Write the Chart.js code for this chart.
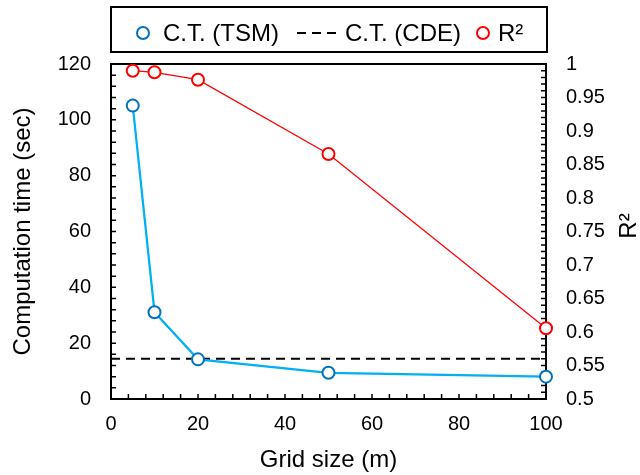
<!DOCTYPE html>
<html>
<head>
<meta charset="utf-8">
<script src="https://cdn.jsdelivr.net/npm/chart.js@4"></script>
<style>
  html, body { margin: 0; padding: 0; background: #fff; }
  #wrap { width: 640px; height: 475px; }
</style>
</head>
<body>
<div id="wrap"><canvas id="chart" width="640" height="475"></canvas></div>
<script>
const gridSizes = [5, 10, 20, 50, 100];
const timeTSM   = [105.1, 31.1, 14.2, 9.4, 8.0];
const cdeRange  = [0, 100];
const timeCDE   = [14.4, 14.4];
const rSquared  = [0.990, 0.9876, 0.9766, 0.8657, 0.6055];

const xTicks    = [0, 20, 40, 60, 80, 100];
const timeTicks = [0, 20, 40, 60, 80, 100, 120];
const r2Ticks   = [0.5, 0.55, 0.6, 0.65, 0.7, 0.75, 0.8, 0.85, 0.9, 0.95, 1];

const FONT = "'Liberation Sans', Arial, sans-serif";
const BLUE_LINE = '#00B0F0';
const BLUE_MARK = '#0070C0';
const RED = '#FF0000';

const toPoints = (xs, ys) => xs.map((x, i) => ({ x, y: ys[i] }));
const setTicks = arr => scale => { scale.ticks = arr.map(v => ({ value: v })); };

// inward major/minor ticks and the box around the plot
const framePlugin = {
    id: 'frame',
    beforeDatasetsDraw(chart) {
        const { ctx, chartArea: a, scales } = chart;
        ctx.save();
        ctx.strokeStyle = '#000';
        ctx.lineWidth = 1.5;
        ctx.beginPath();
        for (let i = 0; i <= 25; i++) {
            const px = scales.x.getPixelForValue(i * 4);
            ctx.moveTo(px, a.bottom);
            ctx.lineTo(px, a.bottom - 5);
        }
        for (let i = 0; i <= 30; i++) {
            const py = scales.y.getPixelForValue(i * 4);
            ctx.moveTo(a.left, py);
            ctx.lineTo(a.left + 5, py);
        }
        for (let i = 0; i <= 50; i++) {
            const py = scales.y2.getPixelForValue(0.5 + i * 0.01);
            ctx.moveTo(a.right, py);
            ctx.lineTo(a.right - 5, py);
        }
        ctx.stroke();
        ctx.lineWidth = 2;
        ctx.strokeRect(a.left, a.top, a.right - a.left, a.bottom - a.top);
        ctx.restore();
    },
    afterDraw(chart) {
        const { ctx } = chart;
        ctx.save();
        // right axis title, reading bottom to top
        ctx.font = `24px ${FONT}`;
        ctx.fillStyle = '#000';
        ctx.textAlign = 'center';
        ctx.textBaseline = 'middle';
        ctx.translate(629, 226);
        ctx.rotate(-Math.PI / 2);
        ctx.fillText('R\u00B2', 0, 0);
        ctx.restore();

        // legend box
        ctx.save();
        ctx.strokeStyle = '#000';
        ctx.lineWidth = 2;
        ctx.strokeRect(111, 7, 436, 45);
        ctx.font = `24px ${FONT}`;
        ctx.fillStyle = '#000';
        ctx.textAlign = 'left';
        ctx.textBaseline = 'middle';
        const cy = 33;

        ctx.lineWidth = 2;
        ctx.strokeStyle = BLUE_MARK;
        ctx.fillStyle = '#fff';
        ctx.beginPath(); ctx.arc(143, cy, 6, 0, Math.PI * 2); ctx.fill(); ctx.stroke();
        ctx.fillStyle = '#000';
        ctx.fillText('C.T. (TSM)', 163, cy + 1);

        ctx.strokeStyle = '#000';
        ctx.setLineDash([9, 6]);
        ctx.beginPath(); ctx.moveTo(297, cy); ctx.lineTo(339, cy); ctx.stroke();
        ctx.setLineDash([]);
        ctx.fillText('C.T. (CDE)', 345, cy + 1);

        ctx.strokeStyle = RED;
        ctx.fillStyle = '#fff';
        ctx.beginPath(); ctx.arc(483, cy, 6, 0, Math.PI * 2); ctx.fill(); ctx.stroke();
        ctx.fillStyle = '#000';
        ctx.fillText('R\u00B2', 498, cy + 1);
        ctx.restore();
    },
};

new Chart(document.getElementById('chart'), {
    type: 'line',
    data: {
        datasets: [
            {
                label: 'C.T. (TSM)',
                data: toPoints(gridSizes, timeTSM),
                yAxisID: 'y',
                borderColor: BLUE_LINE,
                borderWidth: 2.25,
                pointRadius: 6,
                pointBorderWidth: 2,
                pointBorderColor: BLUE_MARK,
                pointBackgroundColor: '#fff',
                clip: false,
                order: 2,
            },
            {
                label: 'C.T. (CDE)',
                data: toPoints(cdeRange, timeCDE),
                yAxisID: 'y',
                borderColor: '#000',
                borderWidth: 2,
                borderDash: [9, 6],
                pointRadius: 0,
                clip: false,
                order: 3,
            },
            {
                label: 'R\u00B2',
                data: toPoints(gridSizes, rSquared),
                yAxisID: 'y2',
                borderColor: RED,
                borderWidth: 1.3,
                pointRadius: 6,
                pointBorderWidth: 2,
                pointBorderColor: RED,
                pointBackgroundColor: '#fff',
                clip: false,
                order: 1,
            },
        ],
    },
    options: {
        responsive: false,
        animation: false,
        layout: { padding: { top: 64, left: 0, right: 0, bottom: 0 } },
        plugins: {
            legend: { display: false },
            tooltip: { enabled: false },
        },
        scales: {
            x: {
                type: 'linear',
                min: 0, max: 100,
                afterBuildTicks: setTicks(xTicks),
                afterFit: s => { s.height = 76; },
                grid: { display: false, drawTicks: false },
                border: { display: false },
                ticks: { color: '#000', padding: 13, font: { family: FONT, size: 20 }, callback: v => String(v) },
                title: { display: true, text: 'Grid size (m)', color: '#000', padding: { top: 0, bottom: 0 }, font: { family: FONT, size: 24 } },
            },
            y: {
                position: 'left',
                min: 0, max: 120,
                afterBuildTicks: setTicks(timeTicks),
                afterFit: s => { s.width = 111; },
                grid: { display: false, drawTicks: false },
                border: { display: false },
                ticks: { color: '#000', padding: 20, font: { family: FONT, size: 20 }, callback: v => String(v) },
                title: { display: true, text: 'Computation time (sec)', color: '#000', padding: { top: 9, bottom: 0 }, font: { family: FONT, size: 24 } },
            },
            y2: {
                position: 'right',
                min: 0.5, max: 1,
                afterBuildTicks: setTicks(r2Ticks),
                afterFit: s => { s.width = 94; },
                grid: { display: false, drawTicks: false },
                border: { display: false },
                ticks: { color: '#000', padding: 20, font: { family: FONT, size: 20 }, callback: v => String(v) },
            },
        },
    },
    plugins: [framePlugin],
});
</script>
</body>
</html>
